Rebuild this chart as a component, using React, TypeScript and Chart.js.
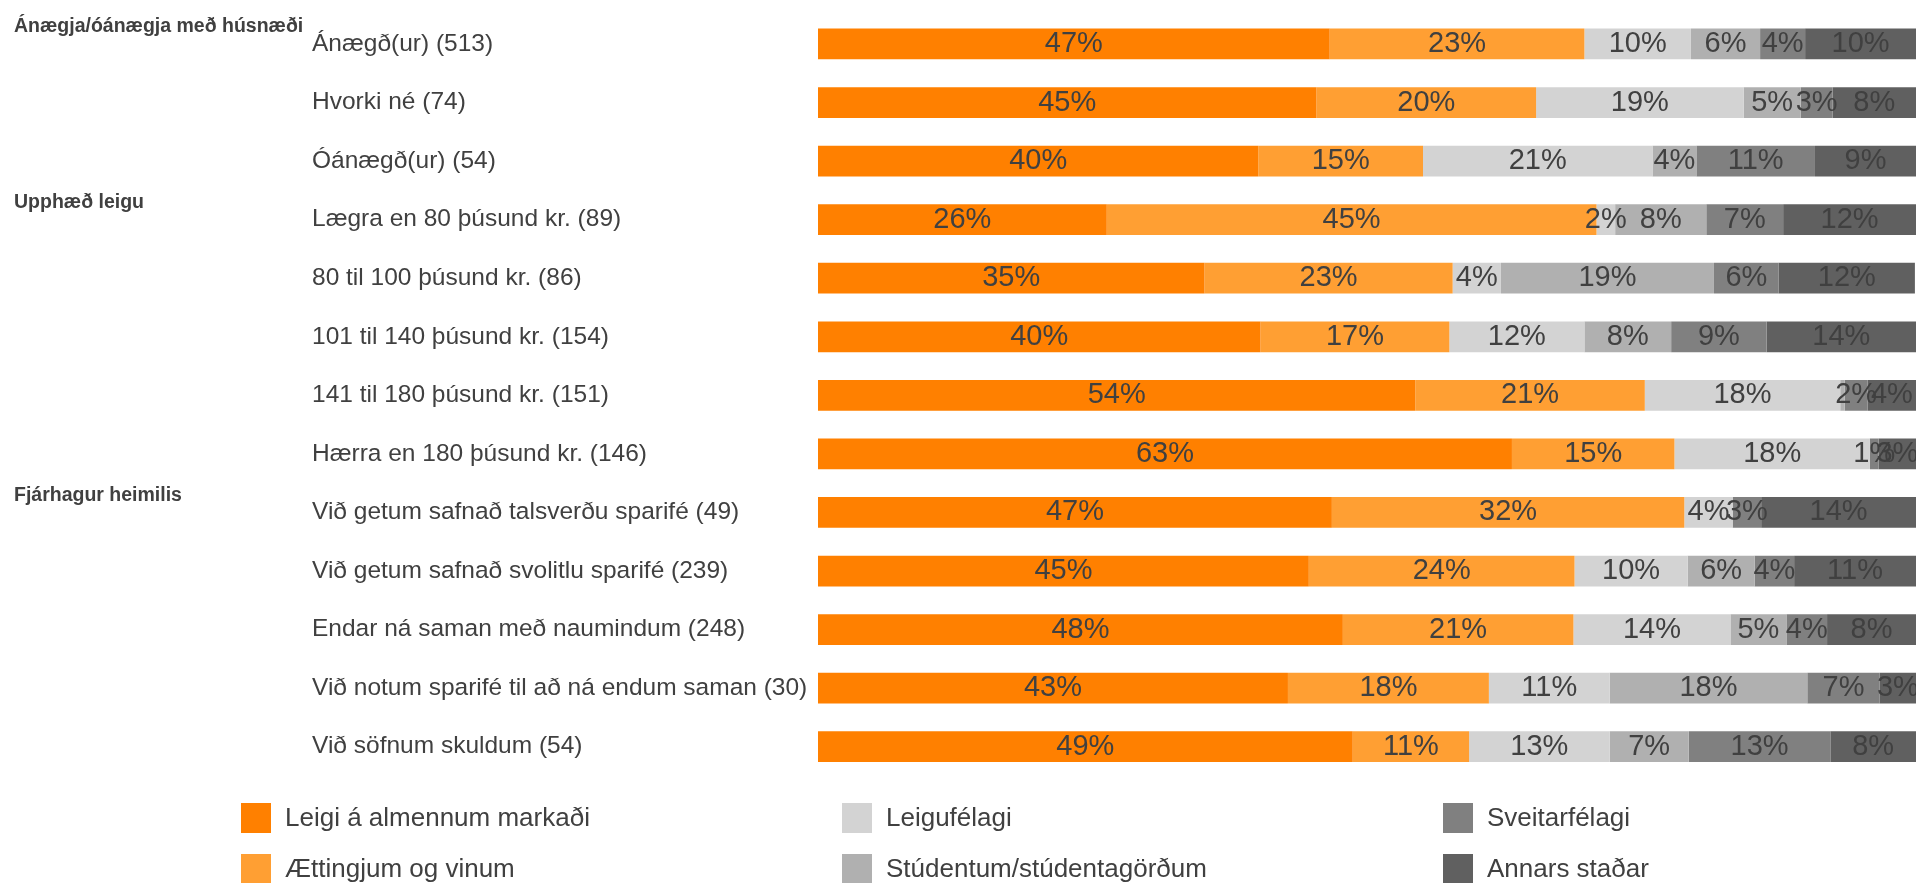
import React, { useEffect, useRef } from "react";
import { Chart, registerables } from "chart.js";

Chart.register(...registerables);

const FONT = "'Liberation Sans', Arial, Helvetica, sans-serif";
const TEXT = "#404040";

const categories = [
  "Ánægð(ur) (513)",
  "Hvorki né (74)",
  "Óánægð(ur) (54)",
  "Lægra en 80 þúsund kr. (89)",
  "80 til 100 þúsund kr. (86)",
  "101 til 140 þúsund kr. (154)",
  "141 til 180 þúsund kr. (151)",
  "Hærra en 180 þúsund kr. (146)",
  "Við getum safnað talsverðu sparifé (49)",
  "Við getum safnað svolitlu sparifé (239)",
  "Endar ná saman með naumindum (248)",
  "Við notum sparifé til að ná endum saman (30)",
  "Við söfnum skuldum (54)",
];

const groupLabels = ["Ánægja/óánægja með húsnæði", "Upphæð leigu", "Fjárhagur heimilis"];
const groupStarts = [0, 3, 8];

const seriesNames = [
  "Leigi á almennum markaði",
  "Ættingjum og vinum",
  "Leigufélagi",
  "Stúdentum/stúdentagörðum",
  "Sveitarfélagi",
  "Annars staðar",
];
const seriesColors = ["#FF8000", "#FF9F33", "#D3D3D3", "#B0B0B0", "#808080", "#606060"];

const almennur = [46.6, 45.4, 40.1, 26.3, 35.2, 40.3, 54.4, 63.2, 46.8, 44.7, 47.8, 42.8, 48.7];
const aettingjar = [23.2, 20.0, 15.0, 44.6, 22.6, 17.2, 20.9, 14.8, 32.1, 24.2, 21.0, 18.3, 10.6];
const leigufelag = [9.7, 18.9, 20.9, 1.7, 4.4, 12.3, 17.8, 17.8, 4.4, 10.3, 14.3, 11.0, 12.8];
const studentar = [6.3, 5.2, 4.0, 8.3, 19.4, 7.9, 0.4, 0, 0, 6.1, 5.1, 18.0, 7.2];
const sveitarfelag = [4.1, 2.9, 10.8, 7.0, 5.9, 8.7, 2.1, 0.8, 2.6, 3.6, 3.7, 6.6, 12.9];
const annad = [10.1, 7.6, 9.2, 12.1, 12.4, 13.6, 4.4, 3.4, 14.1, 11.1, 8.1, 3.3, 7.8];

const seriesValues = [almennur, aettingjar, leigufelag, studentar, sveitarfelag, annad];

const labelPlugin = {
  id: "segmentLabels",
  afterDatasetsDraw(chart: any) {
    const ctx = chart.ctx;
    ctx.save();
    ctx.font = `29px ${FONT}`;
    ctx.fillStyle = TEXT;
    ctx.textAlign = "center";
    ctx.textBaseline = "middle";
    chart.data.datasets.forEach((ds: any, di: number) => {
      const meta = chart.getDatasetMeta(di);
      meta.data.forEach((bar: any, i: number) => {
        const v = Math.round(ds.data[i]);
        if (!v) return;
        const cx = (bar.x + bar.base) / 2;
        ctx.fillText(`${v}%`, cx, bar.y);
      });
    });
    ctx.restore();
  },
};

const groupPlugin = {
  id: "groupLabels",
  afterDraw(chart: any) {
    const ctx = chart.ctx;
    const y = chart.scales.y;
    ctx.save();
    ctx.font = `bold 19.5px ${FONT}`;
    ctx.fillStyle = TEXT;
    ctx.textAlign = "left";
    ctx.textBaseline = "alphabetic";
    groupLabels.forEach((g, i) => {
      const cy = y.getPixelForValue(groupStarts[i]);
      ctx.fillText(g, 14, Math.max(cy - 11.5, 30));
    });
    ctx.restore();
  },
};

const legendPlugin = {
  id: "gridLegend",
  afterDraw(chart: any) {
    const ctx = chart.ctx;
    const area = chart.chartArea;
    ctx.save();
    ctx.font = `26px ${FONT}`;
    ctx.textAlign = "left";
    ctx.textBaseline = "middle";
    chart.data.datasets.forEach((ds: any, i: number) => {
      const col = Math.floor(i / 2);
      const row = i % 2;
      const x = 241 + col * 601;
      const top = area.bottom + 27 + row * 51;
      ctx.fillStyle = ds.backgroundColor;
      ctx.fillRect(x, top, 30, 30);
      ctx.fillStyle = TEXT;
      ctx.fillText(ds.label, x + 44, top + 15.5);
    });
    ctx.restore();
  },
};

export default function App() {
  const ref = useRef<HTMLCanvasElement | null>(null);
  useEffect(() => {
    if (!ref.current) return;
    const chart = new Chart(ref.current, {
      type: "bar",
      data: {
        labels: categories,
        datasets: seriesNames.map((name, i) => ({
          label: name,
          data: seriesValues[i],
          backgroundColor: seriesColors[i],
          borderWidth: 0,
          categoryPercentage: 1,
          barPercentage: 0.525,
        })),
      },
      options: {
        responsive: false,
        animation: false,
        indexAxis: "y",
        layout: { padding: { left: 312, right: 0, top: 9, bottom: 107 } },
        plugins: { legend: { display: false }, tooltip: { enabled: false } },
        scales: {
          x: { stacked: true, min: 0, max: 100, display: false },
          y: {
            stacked: true,
            grid: { display: false },
            border: { display: false },
            ticks: {
              crossAlign: "far",
              padding: 0,
              color: TEXT,
              font: { family: FONT, size: 24.5 },
              autoSkip: false,
            },
            afterFit: (s: any) => {
              s.width = 818 - 312;
            },
          },
        },
      },
      plugins: [labelPlugin, groupPlugin, legendPlugin],
    } as any);
    return () => chart.destroy();
  }, []);
  return (
    <div style={{ position: "absolute", left: 0, top: 0, width: 1916, height: 883, background: "#fff" }}>
      <canvas ref={ref} width={1916} height={883} style={{ display: "block" }} />
    </div>
  );
}
